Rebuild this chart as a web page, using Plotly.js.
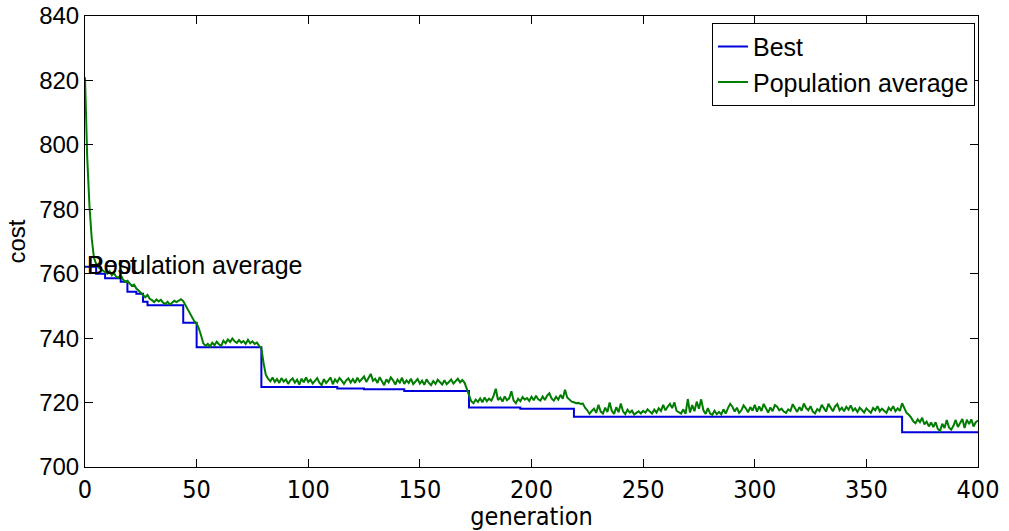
<!DOCTYPE html>
<html>
<head>
<meta charset="utf-8">
<script src="https://cdn.plot.ly/plotly-3.0.1.min.js"></script>
<style>html,body{margin:0;padding:0;background:#fff;}#chart{width:1009px;height:531px;}</style>
</head>
<body>
<div id="chart"></div>
<script>
// Best cost: step changes (generation where a new value starts, value)
const bestGen = [0, 5, 9, 16, 19, 23, 26, 28, 44, 50, 79, 113, 125, 143, 172, 195, 219, 366, 400];
const bestVal = [762.2, 760, 758.6, 757.5, 754.4, 753.8, 751.3, 750.2, 744.8, 737.2, 724.8, 724.4, 724.1, 723.6, 718.5, 718.1, 715.6, 710.8, 710.8];

// Population average cost, one value per generation 0..400
const popAvg = [
 821, 796, 781, 771, 765, 763, 762, 761.5, 761, 760.5,
 760, 760.8, 759.5, 760.2, 759, 758.8, 759.6, 758.2, 757.5, 757.8,
 756.8, 756.2, 756.6, 755.4, 754.8, 754, 753.2, 752.7, 753.4, 752.2,
 751.8, 751.2, 752, 751.4, 751.9, 751, 750.6, 751.3, 750.4, 751.1,
 751.6, 751.2, 751.8, 752.1, 751.5, 750.2, 749.2, 748, 746.6, 745.2,
 744.6, 743, 740.8, 738.4, 737.6, 738.2, 737.4, 738.6, 737.8, 738.9,
 738.1, 737.6, 739.2, 738.4, 739.6, 738.8, 739.9, 739, 738.5, 739.4,
 738.6, 739.1, 738.2, 739.5, 738.4, 739, 738.2, 738.6, 737.6, 736.8,
 732.2, 728.6, 727.4, 726.6, 727.8, 726.4, 727.3, 726.1, 727.6, 726.5,
 727.2, 725.8, 726.9, 727.5, 726.2, 727.1, 725.6, 727.4, 726.3, 727.8,
 726.4, 727.1, 725.9, 726.8, 727.6, 726.2, 725.4, 727.3, 726.1, 726.9,
 727.8, 725.7, 727.2, 726.3, 727.6, 726.8, 725.8, 726.9, 727.5, 726.2,
 727.3, 726.1, 727.7, 726.5, 727.2, 728.1, 726.4, 727.6, 728.9, 726.8,
 727.4, 726.1, 727.9, 726.6, 725.4, 727.2, 726.3, 727.8, 726.9, 725.6,
 727.1, 726.2, 727.7, 725.8, 726.9, 726.1, 727.4, 725.7, 726.6, 727.3,
 725.9, 726.8, 725.5, 727.2, 726.1, 725.4, 726.7, 725.8, 727.1, 726.2,
 725.6, 726.9, 725.7, 726.4, 727.2, 725.9, 726.6, 727.4, 726.3, 727,
 726.2, 724.3, 721.8, 720.4, 719.8, 720.9, 720.2, 721.3, 720.1, 721.6,
 720.4, 721.2, 720.6, 722.1, 724.3, 720.8, 721.5, 720.3, 721.9, 720.7,
 721.3, 723.5, 720.6, 719.8, 721.2, 720.4, 721.7, 720.9, 721.4, 720.5,
 721.8, 720.7, 722.1, 721, 720.6, 721.9, 720.8, 722.2, 722.9, 721.3,
 720.6, 721.8, 720.9, 722.4, 721.2, 724, 721.6, 720.8, 720.3, 720.1,
 719.8, 719.9, 719.6, 719.7, 718.4, 717.6, 716.5, 717.4, 718.1, 716.8,
 719.3, 717.2, 716.6, 718.4, 717.1, 720, 717.4, 716.5, 718.6, 717,
 719.7, 717.3, 716.4, 717.8, 716.9, 717.5, 716.3, 716.8, 717.3, 716.6,
 717.4, 716.9, 717.9, 717.2, 716.6, 717.8, 716.9, 718.2, 717.4, 719.3,
 717.6, 718.7, 719.6, 718.3, 720.1, 717.4, 717, 716.6, 717.9, 716.5,
 721.1, 716.9, 719.2, 717.3, 720.3, 718.1, 721, 717.6, 716.5, 718.3,
 716.6, 716.2, 717.5, 716.4, 717.1, 716.3, 717.9, 716.6, 718.3, 719.6,
 718.7, 717.2, 718.4, 716.8, 717.6, 719.1, 718.2, 717, 718.6, 717.5,
 719.3, 717.2, 718.8, 717.4, 719.6, 718.1, 716.9, 718.5, 717.3, 719.2,
 718.7, 717.6, 718.1, 717.2, 716.8, 717.9, 717.4, 719.5, 718.2, 717.1,
 718.6, 717.5, 719.7, 718.3, 717.6, 718.9, 717.2, 716.6, 718, 717.4,
 719.3, 718.1, 717.2, 719.6, 718.4, 717.3, 718.8, 719.5, 717.6, 718.4,
 717.3, 718.7, 717.8, 719.1, 717.5, 718.2, 717.1, 718.4, 717.7, 716.9,
 718.2, 717.4, 716.8, 718.3, 717.6, 718.9, 717.3, 718.1, 717.5, 716.8,
 718.4, 717.6, 718.9, 717.3, 718.2, 717.4, 719.8, 718.2, 716.8, 716.2,
 715.4, 714.2, 713.6, 714.8, 713.9, 715.3, 713.2, 714.1, 712.6, 713.8,
 712.4, 713.9, 711.8, 711.2, 713.4, 712.1, 714.6, 712.3, 711.6, 712.8,
 714.6, 712.4, 713.8, 714.9, 712.1, 714.7, 713.3, 714.8, 712.6, 713.9,
 714.4
];
const popGen = popAvg.map((_, i) => i);

const seriesNames = ['Best', 'Population average'];
const xTicks = [0, 50, 100, 150, 200, 250, 300, 350, 400];
const yTicks = [700, 720, 740, 760, 780, 800, 820, 840];

const traces = [
  {x: bestGen, y: bestVal, type: 'scatter', mode: 'lines', name: seriesNames[0],
   line: {color: 'rgb(0,0,220)', width: 2, shape: 'hv'}},
  {x: popGen, y: popAvg, type: 'scatter', mode: 'lines', name: seriesNames[1],
   line: {color: 'rgb(0,125,0)', width: 2}}
];

const axisCommon = {showgrid: false, zeroline: false, showline: true, linecolor: '#000', linewidth: 1,
  ticks: 'inside', ticklen: 8, tickcolor: '#000', mirror: 'allticks'};

const narrow = 'DejaVu Sans Condensed, Liberation Sans, Arial, sans-serif';
const sans = 'Liberation Sans, Arial, sans-serif';

const layout = {
  width: 1009, height: 531,
  margin: {l: 85, r: 31, t: 16, b: 64},
  paper_bgcolor: '#fff', plot_bgcolor: '#fff',
  showlegend: true,
  font: {family: sans, color: '#000', size: 24},
  xaxis: Object.assign({}, axisCommon, {
    range: [0, 400], tickvals: xTicks, ticktext: xTicks.map(String),
    tickfont: {family: narrow, size: 25, color: '#000'},
    title: {text: 'generation', font: {family: narrow, size: 25, color: '#000'}, standoff: 0}
  }),
  yaxis: Object.assign({}, axisCommon, {
    range: [700, 840], tickvals: yTicks, ticktext: yTicks.map(String),
    tickfont: {family: sans, size: 24, color: '#000'},
    title: {text: 'cost', font: {family: sans, size: 24, color: '#000'}, standoff: 6}
  }),
  legend: {x: 0.9966, y: 0.985, xanchor: 'right', yanchor: 'top',
    bgcolor: '#fff', bordercolor: '#000', borderwidth: 1,
    font: {family: sans, size: 25, color: '#000'},
    tracegroupgap: 0, itemwidth: 30},
  annotations: [
    {x: 0, y: 762.7, xref: 'x', yref: 'y', text: seriesNames[1], showarrow: false,
     xanchor: 'left', yanchor: 'middle', font: {family: sans, size: 25, color: '#000'}},
    {x: 0, y: 762.7, xref: 'x', yref: 'y', text: seriesNames[0], showarrow: false,
     xanchor: 'left', yanchor: 'middle', font: {family: sans, size: 25, color: '#000'}}
  ]
};

Plotly.newPlot('chart', traces, layout, {displayModeBar: false, staticPlot: true});
</script>
</body>
</html>
